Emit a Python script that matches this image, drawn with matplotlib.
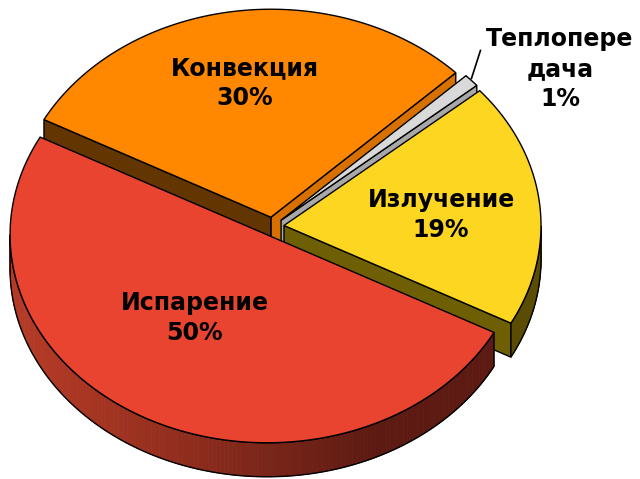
import numpy as np
import matplotlib.pyplot as plt
from matplotlib.patches import Polygon
from matplotlib.colors import to_rgb

# Данные
labels = ["Излучение", "Теплопере\nдача", "Конвекция", "Испарение"]
values = [19, 1, 30, 50]
top_colors = ["#FDD622", "#D9D9D9", "#FF8800", "#E84430"]
wall_colors = ["#6E5F05", "#A8A8A8", "#D87000", "#E84430"]   # видимые радиальные стенки
back_wall_colors = ["#6E5F05", "#A8A8A8", "#633500", "#E84430"]
side_light = ["#7E6D06", "#B0B0B0", "#A85A00", "#B43A25"]
side_dark = ["#5A4C02", "#909090", "#7A4000", "#5C1A12"]

# Геометрия (пиксели)
start_angle = -28.0
cx, cy = 272.5, 226.5
rx, ry = 257.0, 208.0
depth = 34.0
explode = 0.045
label_pos = [(441, 215), (560, 69), (245, 83), (195, 318)]

fig = plt.figure(figsize=(6.4, 4.79), dpi=100)
ax = fig.add_axes([0, 0, 1, 1])
ax.set_xlim(0, 640)
ax.set_ylim(479, 0)
ax.axis("off")


def proj(u, v, z=0.0):
    return cx + rx * u, cy - ry * v + z


total = sum(values)
angles = [start_angle]
for val in values:
    angles.append(angles[-1] + 360.0 * val / total)

# порядок рисования: сзади вперёд
order = [2, 1, 0, 3]

for i in order:
    t1, t2 = angles[i], angles[i + 1]
    mid = np.radians((t1 + t2) / 2)
    ou, ov = explode * np.cos(mid), explode * np.sin(mid)
    th = np.radians(np.linspace(t1, t2, 200))
    us, vs = ou + np.cos(th), ov + np.sin(th)

    # радиальные стенки
    for t, normal in ((t1, t1 - 90), (t2, t2 + 90)):
        if np.sin(np.radians(normal)) < 0:
            r = np.radians(t)
            p0 = proj(ou, ov)
            p1 = proj(ou + np.cos(r), ov + np.sin(r))
            pts = [p0, p1, (p1[0], p1[1] + depth), (p0[0], p0[1] + depth)]
            col = wall_colors[i] if t == t1 else back_wall_colors[i]
            ax.add_patch(Polygon(pts, closed=True, facecolor=col,
                                 edgecolor="black", linewidth=1.0))

    # внешняя боковая стенка (передняя половина)
    front = np.sin(th) < 0
    if front.any():
        idx = np.where(front)[0]
        tf = th[idx]
        uf, vf = us[idx], vs[idx]
        c1, c2 = np.array(to_rgb(side_light[i])), np.array(to_rgb(side_dark[i]))
        for k in range(len(tf) - 1):
            s = 0.5 - 0.5 * np.cos(tf[k] - np.radians(190))
            col = c1 + (c2 - c1) * min(1.0, s * 1.6)
            a0, a1 = proj(uf[k], vf[k]), proj(uf[k + 1], vf[k + 1])
            q = [a0, a1, (a1[0], a1[1] + depth), (a0[0], a0[1] + depth)]
            ax.add_patch(Polygon(q, closed=True, facecolor=col,
                                 edgecolor=col, linewidth=0.6))
        top_arc = [proj(u, v) for u, v in zip(uf, vf)]
        bot_arc = [(x, y + depth) for x, y in top_arc]
        ax.add_patch(Polygon(top_arc + bot_arc[::-1], closed=True,
                             facecolor="none", edgecolor="black", linewidth=1.0))

    # верхняя грань
    pts = [proj(ou, ov)] + [proj(u, v) for u, v in zip(us, vs)]
    ax.add_patch(Polygon(pts, closed=True, facecolor=top_colors[i],
                         edgecolor="black", linewidth=1.0))

# выноска для маленького сектора
r = np.radians((angles[1] + angles[2]) / 2)
gx, gy = proj(explode * np.cos(r) + np.cos(r), explode * np.sin(r) + np.sin(r))
ax.plot([gx, gx + 9], [gy - 2, gy - 30], color="black", linewidth=1.2)

for (x, y), lab, val in zip(label_pos, labels, values):
    ax.text(x, y, f"{lab}\n{val}%", ha="center", va="center",
            fontsize=17, fontweight="bold", family="DejaVu Sans",
            linespacing=1.32, color="black")

fig.savefig("out.png", dpi=100, facecolor="white")
